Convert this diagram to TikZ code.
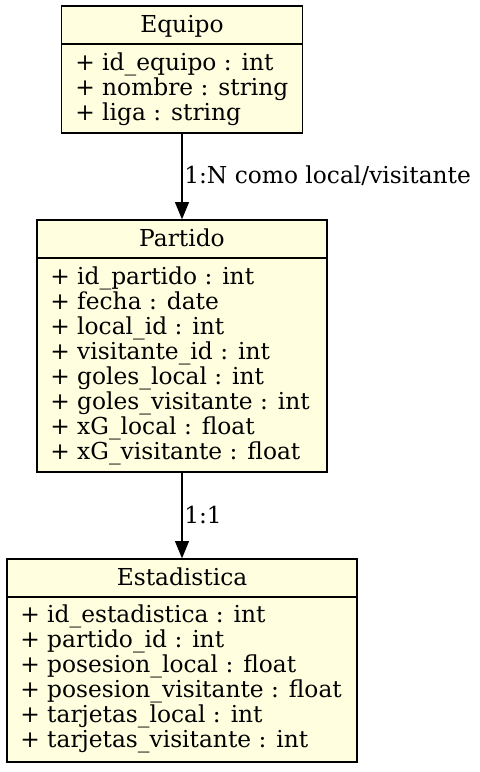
\documentclass[tikz,border=0pt]{standalone}
\usepackage{fontspec}
\setmainfont{DejaVu Serif}
\usetikzlibrary{arrows.meta}
\definecolor{boxfill}{HTML}{FFFFE0}
\begin{document}
\begin{tikzpicture}[x=0.75pt,y=-0.75pt,
  classbox/.style={draw=black, fill=boxfill, line width=1pt, inner sep=0pt},
  txt/.style={inner sep=0pt, font=\fontsize{17.5}{18}\selectfont},
  attr/.style={txt, anchor=base west},
  head/.style={txt, anchor=base},
  rel/.style={line width=1pt, -{Triangle[length=13pt,width=10.5pt]}},
]
\useasboundingbox (0,0) rectangle (479,772);
% boxes
\node[classbox, minimum width={241*0.75pt}, minimum height={127*0.75pt}] (equipo) at (182,69.5) {};
\node[classbox, minimum width={290*0.75pt}, minimum height={252*0.75pt}] (partido) at (182,346) {};
\node[classbox, minimum width={350*0.75pt}, minimum height={203*0.75pt}] (estad) at (182,660.5) {};
\draw[line width=1pt] (equipo.west |- 0,44) -- (equipo.east |- 0,44);
\draw[line width=1pt] (partido.west |- 0,258) -- (partido.east |- 0,258);
\draw[line width=1pt] (estad.west |- 0,597) -- (estad.east |- 0,597);
% Equipo
\node[head] (eh) at (182,32) {Equipo};
\node[attr] (e1) at (75,70) {+ id\_equipo : int};
\node[attr] (e2) at (75,95) {+ nombre : string};
\node[attr] (e3) at (75,120) {+ liga : string};
% Partido
\node[head] (ph) at (182,246) {Partido};
\node[attr] (p1) at (50,284) {+ id\_partido : int};
\node[attr] (p2) at (50,309) {+ fecha : date};
\node[attr] (p3) at (50,334) {+ local\_id : int};
\node[attr] (p4) at (50,359) {+ visitante\_id : int};
\node[attr] (p5) at (50,384) {+ goles\_local : int};
\node[attr] (p6) at (50,409) {+ goles\_visitante : int};
\node[attr] (p7) at (50,434) {+ xG\_local : float};
\node[attr] (p8) at (50,459) {+ xG\_visitante : float};
% Estadistica
\node[head] (sh) at (182,585) {Estadistica};
\node[attr] (s1) at (20,622) {+ id\_estadistica : int};
\node[attr] (s2) at (20,647) {+ partido\_id : int};
\node[attr] (s3) at (20,672) {+ posesion\_local : float};
\node[attr] (s4) at (20,697) {+ posesion\_visitante : float};
\node[attr] (s5) at (20,722) {+ tarjetas\_local : int};
\node[attr] (s6) at (20,747) {+ tarjetas\_visitante : int};
% relations
\draw[rel] (equipo.south) -- (partido.north);
\draw[rel] (partido.south) -- (estad.north);
\node[attr] (l1) at (184,183) {1:N como local/visitante};
\node[attr] (l2) at (184,523) {1:1};
\end{tikzpicture}
\end{document}
